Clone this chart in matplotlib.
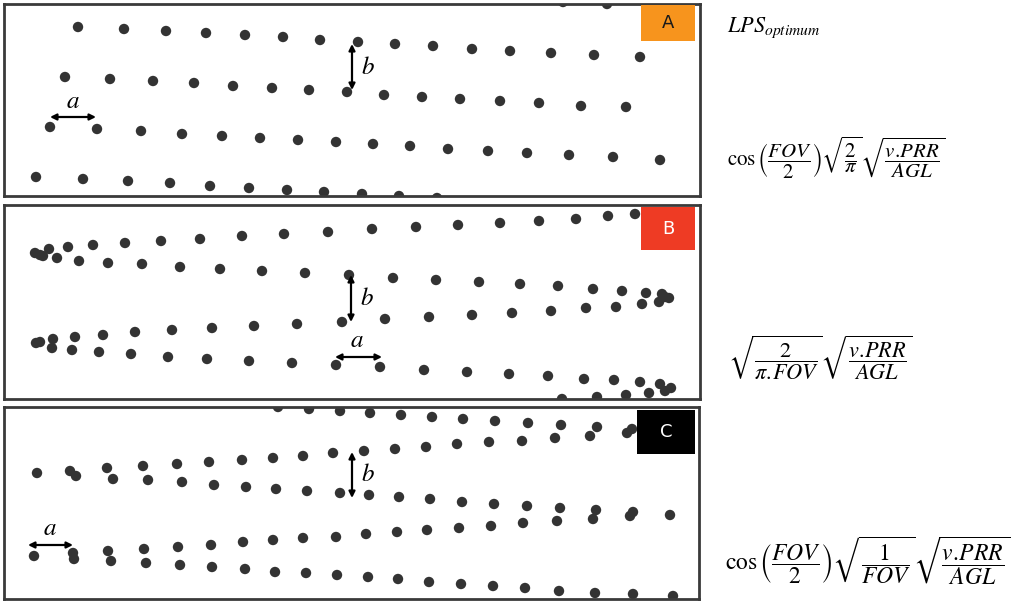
import matplotlib
matplotlib.use("Agg")
import matplotlib.pyplot as plt
from matplotlib.patches import Rectangle

plt.rcParams['mathtext.fontset'] = 'stix'

W, H = 1021, 601

# ---------------- data (image-pixel positions) -------------
# Panel A : parallel scan lines
A_row0_x = [563, 607]
A_row0_y = [2, 4]
A_row1_x = [78, 124, 166, 206, 245, 283, 320, 358, 395, 433, 472, 510, 551, 594, 640]
A_row1_y = [27, 29, 31, 33, 35, 37, 40, 42, 44, 46, 49, 51, 53, 55, 57]
A_row2_x = [65, 110, 153, 194, 233, 272, 309, 347, 384, 422, 460, 500, 539, 581, 626]
A_row2_y = [77, 79, 81, 83, 86, 88, 90, 92, 95, 97, 99, 101, 103, 106, 107]
A_row3_x = [50, 97, 141, 182, 222, 260, 298, 336, 373, 410, 448, 488, 527, 569, 613, 660]
A_row3_y = [127, 129, 131, 134, 136, 138, 140, 142, 144, 146, 149, 151, 153, 155, 157, 160]
A_row4_x = [36, 83, 128, 170, 210, 249, 287, 324, 362, 399, 437]
A_row4_y = [177, 179, 181, 183, 186, 188, 190, 192, 194, 196, 198]

# Panel B : zig-zag scan with clustered turn points
B_row1_x = [35, 49, 68, 93, 125, 161, 200, 242, 284, 328, 372, 416, 458, 500, 539, 576, 608, 635]
B_row1_y = [253, 249, 247, 245, 243, 241, 239, 236, 234, 232, 229, 227, 225, 223, 221, 219, 216, 214]
B_row2_x = [40, 43, 57, 79, 108, 142, 180, 220, 262, 305, 349, 393, 436, 479, 520, 558, 593, 622,
            646, 662, 669, 665]
B_row2_y = [255, 256, 258, 261, 263, 264, 267, 269, 271, 273, 275, 278, 280, 282, 284, 286, 289, 291,
            293, 294, 298, 297]
B_row3_x = [659, 642, 616, 586, 551, 512, 472, 429, 385, 342, 297, 254, 212, 172, 135, 103, 75, 53, 40, 36]
B_row3_y = [302, 304, 307, 308, 311, 313, 315, 317, 319, 322, 324, 326, 328, 330, 332, 335, 337, 339, 342, 343]
B_row4_x = [52, 72, 99, 131, 168, 207, 249, 292, 336, 380, 424, 467, 509, 548, 584, 614, 640, 660, 671]
B_row4_y = [348, 350, 352, 354, 357, 359, 361, 363, 365, 367, 370, 372, 374, 376, 379, 380, 382, 384, 388]
B_row5_x = [665, 649, 626, 597, 562]
B_row5_y = [391, 393, 395, 397, 399]

# Panel C : zig-zag scan with paired points
C_row0_x = [278, 309, 340, 370, 401, 432, 463, 495, 528, 561, 597, 632]
C_row0_y = [407, 409, 411, 413, 415, 417, 419, 421, 423, 425, 427, 429]
C_row1_x = [627, 590, 555, 522, 489, 457, 426, 395, 364, 333, 303, 273, 242, 209, 177, 143, 107, 70, 37]
C_row1_y = [433, 436, 438, 441, 442, 444, 447, 449, 451, 453, 456, 458, 460, 462, 464, 466, 468, 471, 473]
C_row2_x = [76, 113, 148, 182, 214, 246, 276, 307, 340, 369, 399, 430, 462, 494, 527, 560, 596, 633, 670]
C_row2_y = [476, 479, 480, 482, 485, 487, 489, 491, 493, 495, 497, 499, 502, 504, 506, 508, 510, 512, 515]
C_row3_x = [630, 593, 557, 523, 491, 459, 427, 397, 366, 336, 303, 273, 243, 211, 178, 144, 108, 73, 34]
C_row3_y = [516, 519, 521, 523, 526, 528, 530, 532, 534, 537, 538, 540, 542, 545, 547, 549, 551, 553, 556]
C_row4_x = [74, 111, 146, 180, 212, 245, 275, 306, 337, 368, 398, 429, 461, 493, 525, 559, 595, 633, 673]
C_row4_y = [559, 561, 563, 565, 567, 569, 572, 573, 575, 577, 579, 582, 584, 586, 588, 591, 593, 594, 596]

panel_labels = ['A', 'B', 'C']
label_colors = ['#F7941D', '#EE3B24', '#000000']
label_text_colors = ['#1a1a1a', '#ffffff', '#ffffff']

formula_header = r'$LPS_{optimum}$'
formulas = [
    r'$\cos\left(\dfrac{FOV}{2}\right)\sqrt{\dfrac{2}{\pi}}\sqrt{\dfrac{v.\!PRR}{AGL}}$',
    r'$\sqrt{\dfrac{2}{\pi.\!FOV}}\sqrt{\dfrac{v.\!PRR}{AGL}}$',
    r'$\cos\left(\dfrac{FOV}{2}\right)\sqrt{\dfrac{1}{FOV}}\sqrt{\dfrac{v.\!PRR}{AGL}}$',
]

panels = [
    dict(bounds=(4, 700, 4, 196),
         rows=[(A_row0_x, A_row0_y), (A_row1_x, A_row1_y), (A_row2_x, A_row2_y),
               (A_row3_x, A_row3_y), (A_row4_x, A_row4_y)],
         box=(641, 5, 54, 36),
         a_arrow=((50, 117), (96, 117), (73, 101)),
         b_arrow=((352, 44), (352, 90), (368, 67))),
    dict(bounds=(4, 700, 205, 399),
         rows=[(B_row1_x, B_row1_y), (B_row2_x, B_row2_y), (B_row3_x, B_row3_y),
               (B_row4_x, B_row4_y), (B_row5_x, B_row5_y)],
         box=(641, 207, 54, 43),
         a_arrow=((335, 357), (382, 357), (357, 340)),
         b_arrow=((351, 275), (351, 322), (367, 298))),
    dict(bounds=(4, 699, 407, 599),
         rows=[(C_row0_x, C_row0_y), (C_row1_x, C_row1_y), (C_row2_x, C_row2_y),
               (C_row3_x, C_row3_y), (C_row4_x, C_row4_y)],
         box=(637, 410, 58, 44),
         a_arrow=((28, 545), (73, 545), (50, 528)),
         b_arrow=((352, 452), (352, 498), (368, 474))),
]

fig = plt.figure(figsize=(W / 100, H / 100), dpi=100)
fig.patch.set_facecolor('white')

for i, p in enumerate(panels):
    x0, x1, y0, y1 = p['bounds']
    ax = fig.add_axes([x0 / W, 1 - y1 / H, (x1 - x0) / W, (y1 - y0) / H])
    ax.set_xlim(x0, x1)
    ax.set_ylim(y1, y0)
    ax.set_xticks([])
    ax.set_yticks([])
    for s in ax.spines.values():
        s.set_color('#3a3a3a')
        s.set_linewidth(2.0)
    for xs, ys in p['rows']:
        ax.scatter(xs, ys, s=56, color='#333333', edgecolors='none', zorder=2)
    bx, by, bw, bh = p['box']
    ax.add_patch(Rectangle((bx, by), bw, bh, facecolor=label_colors[i], edgecolor='none', zorder=3))
    ax.text(bx + bw / 2, by + bh / 2, panel_labels[i], ha='center', va='center',
            color=label_text_colors[i], fontsize=13, family='DejaVu Sans', zorder=4)
    (ax_s, ax_e, ax_t) = p['a_arrow']
    ax.annotate('', xy=ax_e, xytext=ax_s,
                arrowprops=dict(arrowstyle='<|-|>', color='black', lw=1.6,
                                mutation_scale=9, shrinkA=0, shrinkB=0), zorder=5)
    ax.text(ax_t[0], ax_t[1], r'$a$', ha='center', va='center', fontsize=18, zorder=5)
    (bs, be, bt) = p['b_arrow']
    ax.annotate('', xy=be, xytext=bs,
                arrowprops=dict(arrowstyle='<|-|>', color='black', lw=1.6,
                                mutation_scale=9, shrinkA=0, shrinkB=0), zorder=5)
    ax.text(bt[0], bt[1], r'$b$', ha='center', va='center', fontsize=18, zorder=5)

fig.text(727 / W, 1 - 28 / H, formula_header, ha='left', va='center', fontsize=16)
formula_pos = [(727, 158), (728, 358), (725, 561)]
formula_sizes = [15, 16, 17]
for (fx, fy), f, fs in zip(formula_pos, formulas, formula_sizes):
    fig.text(fx / W, 1 - fy / H, f, ha='left', va='center', fontsize=fs)

fig.savefig('out.png', dpi=100, facecolor='white')
